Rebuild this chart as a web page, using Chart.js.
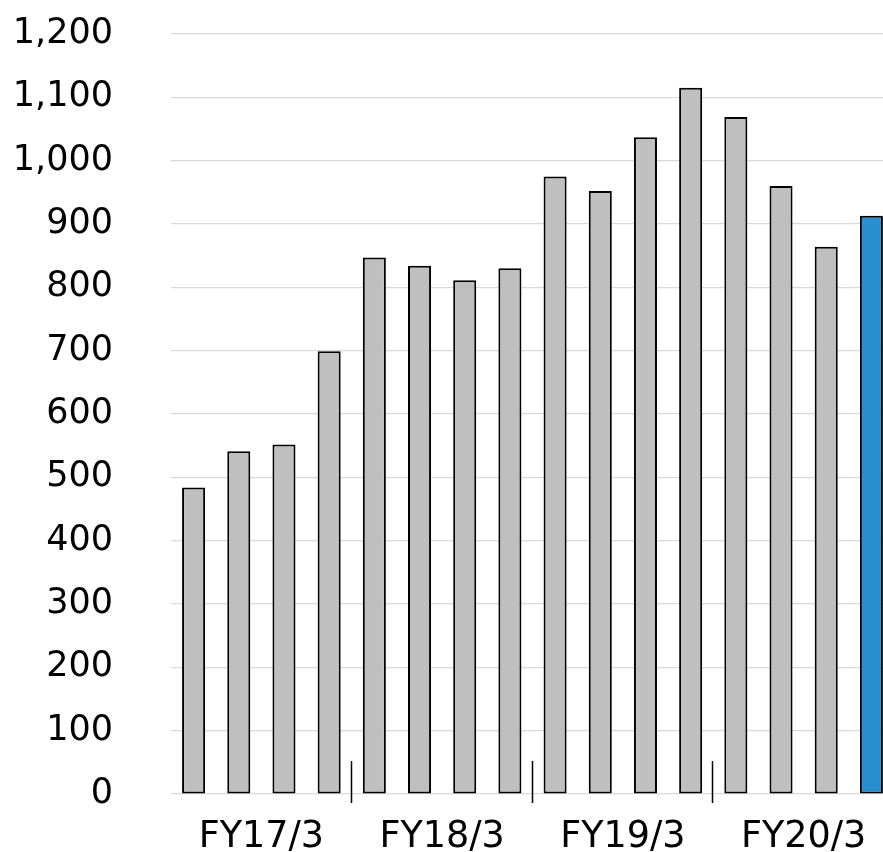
<!DOCTYPE html>
<html>
<head>
<meta charset="utf-8">
<script src="https://cdn.jsdelivr.net/npm/chart.js@4/dist/chart.umd.min.js"></script>
<style>
    html, body { margin: 0; padding: 0; background: #fff; overflow: hidden; }
    #wrap { position: relative; width: 900px; height: 852px; }
</style>
</head>
<body>
<div id="wrap"><canvas id="chart"></canvas></div>
<script>
// fiscal years, 4 quarters each
var fiscalYears = ['FY17/3', 'FY18/3', 'FY19/3', 'FY20/3'];
var quarters = [
    'FY17/3 Q1', 'FY17/3 Q2', 'FY17/3 Q3', 'FY17/3 Q4',
    'FY18/3 Q1', 'FY18/3 Q2', 'FY18/3 Q3', 'FY18/3 Q4',
    'FY19/3 Q1', 'FY19/3 Q2', 'FY19/3 Q3', 'FY19/3 Q4',
    'FY20/3 Q1', 'FY20/3 Q2', 'FY20/3 Q3', 'FY20/3 Q4'
];
var values = [484, 541, 552, 699, 847, 834, 811, 830, 975, 952, 1037, 1115, 1069, 960, 864, 913];
var yTicks = [0, 100, 200, 300, 400, 500, 600, 700, 800, 900, 1000, 1100, 1200];

var barColors = values.map(function (v, i) {
    return i === values.length - 1 ? '#2A8FD1' : '#BFBFBF';
});

// short vertical lines between fiscal years, like the Excel original
var groupSeparators = {
    id: 'groupSeparators',
    afterDatasetsDraw: function (chart) {
        var x = chart.scales.x, y = chart.scales.y;
        var ctx = chart.ctx;
        var per = quarters.length / fiscalYears.length;
        var half = (x.getPixelForValue(1) - x.getPixelForValue(0)) / 2;
        var y0 = y.getPixelForValue(0);
        ctx.save();
        ctx.strokeStyle = '#000';
        ctx.lineWidth = 1.5;
        for (var g = 1; g < fiscalYears.length; g++) {
            var px = Math.round(x.getPixelForValue(g * per - 1) + half) - 0.5;
            ctx.beginPath();
            ctx.moveTo(px, y0 - 33);
            ctx.lineTo(px, y0 + 9);
            ctx.stroke();
        }
        ctx.restore();
    }
};

var family = '"DejaVu Sans", Verdana, sans-serif';

new Chart(document.getElementById('chart'), {
    type: 'bar',
    data: {
        labels: quarters,
        datasets: [{
            data: values,
            backgroundColor: barColors,
            borderColor: '#000',
            borderWidth: 2,
            borderSkipped: false,
            barPercentage: 0.51,
            categoryPercentage: 1
        }]
    },
    options: {
        responsive: true,
        maintainAspectRatio: false,
        animation: false,
        layout: { padding: { left: 14, right: 6, top: 34, bottom: 0 } },
        plugins: { legend: { display: false }, tooltip: { enabled: false } },
        scales: {
            x: {
                display: false,
                offset: true
            },
            xGroup: {
                type: 'category',
                labels: fiscalYears,
                position: 'bottom',
                offset: true,
                grid: { display: false, drawTicks: false },
                border: { display: false },
                ticks: { color: '#000', font: { family: family, size: 36.5 }, padding: 22, maxRotation: 0, autoSkip: false },
                afterFit: function (axis) {
                    axis.height = 58;
                }
            },
            y: {
                min: yTicks[0],
                max: yTicks[yTicks.length - 1],
                afterBuildTicks: function (axis) {
                    axis.ticks = yTicks.map(function (v) { return { value: v }; });
                },
                grid: { color: '#D9D9D9', lineWidth: 1.2, drawTicks: false },
                border: { display: false },
                ticks: { color: '#000', font: { family: family, size: 35 }, padding: 58 },
                afterFit: function (axis) {
                    // keep labels where the original has them, not padded twice
                    axis.width = 157;
                    axis.paddingTop = 0;
                    axis.paddingBottom = 0;
                }
            }
        }
    },
    plugins: [groupSeparators]
});
</script>
</body>
</html>
